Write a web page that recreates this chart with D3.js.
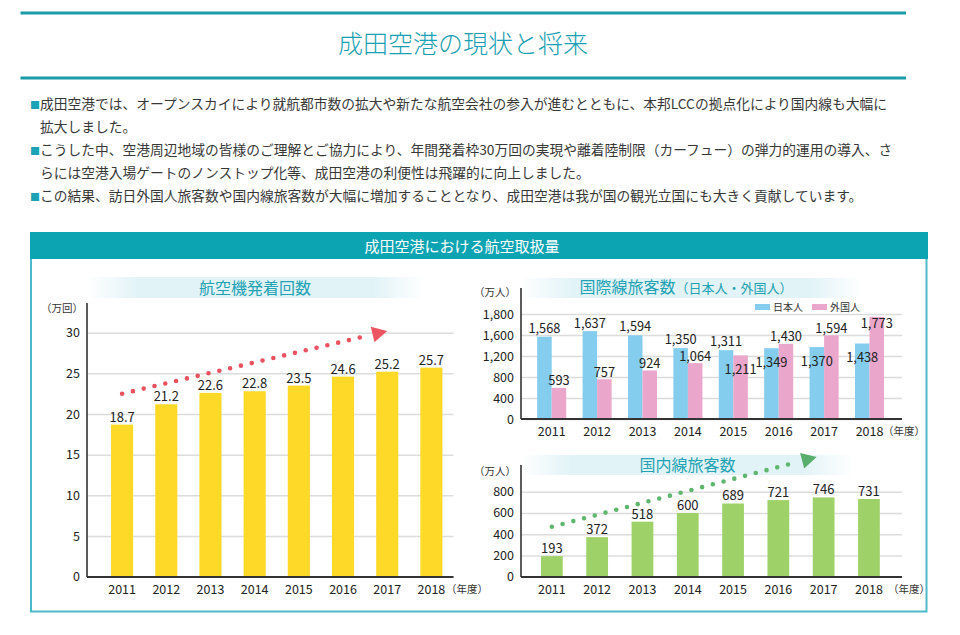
<!DOCTYPE html>
<html><head><meta charset="utf-8">
<script src="https://cdn.jsdelivr.net/npm/d3@7"></script>
<style>
body{margin:0;background:#fff;}
svg text{font-family:"Noto Sans CJK JP","Noto Sans",sans-serif;}
</style></head><body>
<svg id="c" width="960" height="635"></svg>
<script>
// ---------------- data ----------------
const pageTitle = "成田空港の現状と将来";
const paragraphLines = [
  {bullet:true,  text:"成田空港では、オープンスカイにより就航都市数の拡大や新たな航空会社の参入が進むとともに、本邦LCCの拠点化により国内線も大幅に"},
  {bullet:false, text:"拡大しました。"},
  {bullet:true,  text:"こうした中、空港周辺地域の皆様のご理解とご協力により、年間発着枠30万回の実現や離着陸制限（カーフュー）の弾力的運用の導入、さ"},
  {bullet:false, text:"らには空港入場ゲートのノンストップ化等、成田空港の利便性は飛躍的に向上しました。"},
  {bullet:true,  text:"この結果、訪日外国人旅客数や国内線旅客数が大幅に増加することとなり、成田空港は我が国の観光立国にも大きく貢献しています。"}
];
const panelTitle = "成田空港における航空取扱量";
const years = ["2011","2012","2013","2014","2015","2016","2017","2018"];
const flights = [18.7,21.2,22.6,22.8,23.5,24.6,25.2,25.7];
const flightTicks = [0,5,10,15,20,25,30];
const intlJapanese = [1568,1637,1594,1350,1311,1349,1370,1438];
const intlForeign  = [593,757,924,1064,1211,1430,1594,1773];
const intlTicks = [0,400,800,1200,1600,1800];
const domestic = [193,372,518,600,689,721,746,731];
const domTicks = [0,200,400,600,800];
const seriesNames = ["日本人","外国人"];

// ---------------- drawing ----------------
const svg = d3.select("#c");
const TEAL = "#1b9aa8";
const fmt = d3.format(",");

// title lines
[11.5, 76.5].forEach(y => svg.append("rect").attr("x",20.5).attr("y",y).attr("width",885.5).attr("height",3).attr("fill",TEAL));
svg.append("text").attr("x",463).attr("y",53).attr("text-anchor","middle")
  .attr("font-size",25).attr("font-weight",300).attr("fill","#1aa0b2").text(pageTitle);

// paragraphs
const pBase = [109,132,155,178,201];
paragraphLines.forEach((ln,i) => {
  const t = svg.append("text").attr("x", ln.bullet ? 30 : 40).attr("y", pBase[i])
    .attr("font-size",13.75).attr("fill","#383838");
  if (ln.bullet) t.append("tspan").attr("font-size",10).attr("fill","#1ba3b5").text("■");
  t.append("tspan").attr("x",40).text(ln.text);
});

// panel
svg.append("rect").attr("x",31).attr("y",233).attr("width",895.5).attr("height",378.5)
  .attr("fill","none").attr("stroke","#4cb9c9").attr("stroke-width",2);
svg.append("rect").attr("x",30).attr("y",232).attr("width",898).attr("height",27).attr("fill","#0ca4b2");
svg.append("text").attr("x",462).attr("y",251.5).attr("text-anchor","middle")
  .attr("font-size",15).attr("fill","#fff").text(panelTitle);

// gradient for subtitles
const defs = svg.append("defs");
const grad = defs.append("linearGradient").attr("id","subg");
[[0,"#ffffff"],[0.15,"#e2f3f7"],[0.85,"#e2f3f7"],[1,"#ffffff"]].forEach(s =>
  grad.append("stop").attr("offset",s[0]).attr("stop-color",s[1]));

function subtitle(x0,x1,y0,h,cx,base,parts){
  svg.append("rect").attr("x",x0).attr("y",y0).attr("width",x1-x0).attr("height",h).attr("fill","url(#subg)");
  const t = svg.append("text").attr("x",cx).attr("y",base).attr("text-anchor","middle").attr("fill","#23a2b4");
  parts.forEach(p => t.append("tspan").attr("font-size",p[1]).text(p[0]));
}

function gridAxis(yScale, ticks, xLeft, xRight, fs){
  const g = svg.append("g").attr("transform",`translate(${xLeft},0)`)
    .call(d3.axisLeft(yScale).tickValues(ticks).tickSize(-(xRight-xLeft)).tickPadding(7).tickFormat(fmt));
  g.select(".domain").remove();
  g.selectAll(".tick line").attr("stroke","#dcdcdc").attr("stroke-width",1.5).attr("x1",0);
  g.selectAll(".tick text").attr("font-size",fs).attr("fill","#222")
    .style("font-family",'"Noto Sans CJK JP",sans-serif');
  return g;
}
function axisLines(xLeft,xRight,yTop,yBottom){
  svg.append("line").attr("x1",xLeft).attr("x2",xLeft).attr("y1",yTop).attr("y2",yBottom)
    .attr("stroke","#333").attr("stroke-width",1.6);
  svg.append("line").attr("x1",xLeft).attr("x2",xRight).attr("y1",yBottom).attr("y2",yBottom)
    .attr("stroke","#333").attr("stroke-width",1.8);
}
function xAxis(xScale, yBottom, unitX){
  const g = svg.append("g").attr("transform",`translate(0,${yBottom})`)
    .call(d3.axisBottom(xScale).tickSize(0).tickPadding(8.5));
  g.select(".domain").remove();
  g.selectAll(".tick text").attr("font-size",12.5).attr("fill","#222")
    .style("font-family",'"Noto Sans CJK JP",sans-serif');
  svg.append("text").attr("x",unitX).attr("y",yBottom+16).attr("font-size",10.5).attr("fill","#333").text("（年度）");
}
function unitLabel(x,y,txt){
  svg.append("text").attr("x",x).attr("y",y).attr("text-anchor","end").attr("font-size",10.5).attr("fill","#333").text(txt);
}
function dottedArrow(x0,y0,x1,y1,color,headColor){
  const dx=x1-x0, dy=y1-y0, L=Math.hypot(dx,dy), ux=dx/L, uy=dy/L;
  const hl=15, hw=8;
  const bx=x1-ux*hl, by=y1-uy*hl;
  svg.append("line").attr("x1",x0).attr("y1",y0).attr("x2",bx-ux*4).attr("y2",by-uy*4)
    .attr("stroke",color).attr("stroke-width",4.6).attr("stroke-linecap","round")
    .attr("stroke-dasharray","0 11.1");
  svg.append("path").attr("d",`M${x1},${y1}L${bx-uy*hw},${by+ux*hw}L${bx+uy*hw},${by-ux*hw}Z`).attr("fill",headColor);
}

// ---- left chart: flights ----
const xL = d3.scaleBand().domain(years).range([100,453.5]).paddingInner(0.5).paddingOuter(0.25);
const yL = d3.scaleLinear().domain([0,30]).range([576.7,332.7]);
subtitle(87,424,277,21,255,294,[["航空機発着回数",16]]);
gridAxis(yL, flightTicks, 87, 453.5, 12.5);
svg.append("g").selectAll("rect").data(flights).join("rect")
  .attr("x",(d,i)=>xL(years[i])).attr("width",xL.bandwidth())
  .attr("y",d=>yL(d)).attr("height",d=>yL(0)-yL(d)).attr("fill","#ffd928");
svg.append("g").selectAll("text").data(flights).join("text")
  .attr("x",(d,i)=>xL(years[i])+xL.bandwidth()/2).attr("y",d=>yL(d)-3)
  .attr("text-anchor","middle").attr("font-size",13).attr("fill","#222").text(d=>d.toFixed(1));
axisLines(87,453.5,303,577);
xAxis(xL,577,446);
unitLabel(83,312,"（万回）");
dottedArrow(xL("2011")+xL.bandwidth()/2, yL(22.5), xL("2017")+xL.bandwidth()/2, yL(30.2), "#e9525e", "#ec5662");

// ---- right top: international ----
const xI = d3.scaleBand().domain(years).range([529,892.2]).paddingInner(0.36).paddingOuter(0.18);
const xS = d3.scaleBand().domain(seriesNames).range([0,xI.bandwidth()]);
const yI = d3.scaleLinear().domain([0,1600,1800]).range([419,335,314]);
const colI = {"日本人":"#84cdee","外国人":"#eba6cb"};
subtitle(521,862,278,20,686,293,[["国際線旅客数",16],["（日本人・外国人）",13]]);
gridAxis(yI, intlTicks, 521, 902, 12.5);
const intlRows = years.map((y,i)=>({year:y, vals:[intlJapanese[i], intlForeign[i]]}));
const gI = svg.append("g").selectAll("g").data(intlRows).join("g").attr("transform",d=>`translate(${xI(d.year)},0)`);
gI.selectAll("rect").data(d=>d.vals.map((v,k)=>({k:seriesNames[k],v}))).join("rect")
  .attr("x",d=>xS(d.k)).attr("width",xS.bandwidth()).attr("y",d=>yI(d.v)).attr("height",d=>yI(0)-yI(d.v))
  .attr("fill",d=>colI[d.k]);
gI.each(function(d){
  const g=d3.select(this);
  const [jp,fg]=d.vals;
  const place=(v,k,below,up)=>{
    const cy = below ? yI(v)+14 : Math.max(yI(v)-up, yI(1800)+9);
    g.append("text").attr("x",xS(k)+xS.bandwidth()/2).attr("y",cy+4.5).attr("text-anchor","middle")
      .attr("font-size",12.8).attr("fill","#222").text(fmt(v));
  };
  place(jp,"日本人", fg>jp, 8.5);
  place(fg,"外国人", jp>fg && jp-fg<200, 7);
});
axisLines(521,902,288,419);
xAxis(xI,419,883);
unitLabel(516,296,"（万人）");
const lg = svg.append("g");
seriesNames.forEach((n,i)=>{
  const lx = 755 + i*57;
  lg.append("rect").attr("x",lx).attr("y",304).attr("width",15).attr("height",6).attr("fill",colI[n]);
  lg.append("text").attr("x",lx+18).attr("y",311).attr("font-size",10).attr("fill","#333").text(n);
});

// ---- right bottom: domestic ----
const xD = d3.scaleBand().domain(years).range([529.2,891.6]).paddingInner(0.52).paddingOuter(0.26);
const yD = d3.scaleLinear().domain([0,800]).range([576.7,491.7]);
subtitle(521,853,455,20,687.5,471,[["国内線旅客数",16]]);
gridAxis(yD, domTicks, 521, 902, 12.5);
svg.append("g").selectAll("rect").data(domestic).join("rect")
  .attr("x",(d,i)=>xD(years[i])).attr("width",xD.bandwidth())
  .attr("y",d=>yD(d)).attr("height",d=>yD(0)-yD(d)).attr("fill","#9ed168");
svg.append("g").selectAll("text").data(domestic).join("text")
  .attr("x",(d,i)=>xD(years[i])+xD.bandwidth()/2).attr("y",d=>yD(d)-3)
  .attr("text-anchor","middle").attr("font-size",13).attr("fill","#222").text(d=>d);
axisLines(521,902,465,577);
xAxis(xD,577,888);
unitLabel(516,475,"（万人）");
dottedArrow(xD("2011")+xD.bandwidth()/2, yD(470), xD("2017")+xD.bandwidth()/2-7, yD(1127), "#5fb66f", "#58ae6c");
</script>
</body></html>
